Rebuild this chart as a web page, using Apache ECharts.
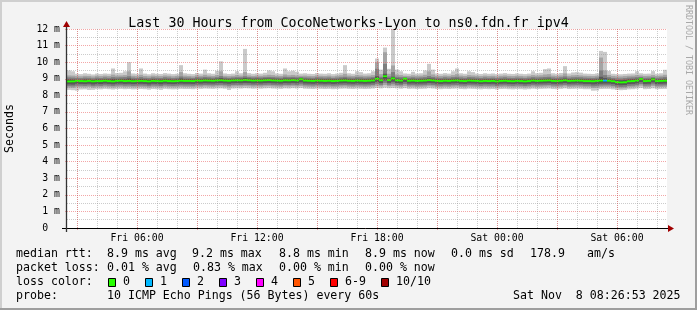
<!DOCTYPE html>
<html><head><meta charset="utf-8">
<script src="https://cdn.jsdelivr.net/npm/echarts@6/dist/echarts.min.js"></script>
<style>html,body{margin:0;padding:0;background:#f3f3f3}#c{width:697px;height:310px}</style>
</head><body><div id="c"></div>
<script>
// time axis in minutes since Fri 00:00; graph spans Fri 02:30 .. Sat 08:30
const START_MIN = 150, END_MIN = 1950, BIN_MIN = 12;

const hourTicks = [180,240,300,360,420,480,540,600,660,720,780,840,900,960,1020,1080,1140,1200,1260,1320,1380,1440,1500,1560,1620,1680,1740,1800,1860,1920];
const majorTicks = [180,360,540,720,900,1080,1260,1440,1620,1800];
const labelTicks = [360,720,1080,1440,1800];
const labelTexts = ['Fri 06:00','Fri 12:00','Fri 18:00','Sat 00:00','Sat 06:00'];

// sorted pings per 12-minute bin (ms), p1 = fastest, p10 = slowest
const p10 = [
9.50,9.45,9.30,9.28,9.33,9.30,9.26,9.31,9.29,9.32,
9.30,9.62,9.34,9.36,9.45,10.00,9.32,9.30,9.62,9.31,
9.27,9.33,9.30,9.29,9.34,9.31,9.28,9.30,9.82,9.33,
9.30,9.28,9.35,9.31,9.55,9.33,9.30,9.48,10.05,9.32,
9.29,9.31,9.45,9.33,10.80,9.34,9.30,9.33,9.31,9.36,
9.50,9.45,9.32,9.30,9.62,9.45,9.48,9.42,9.31,9.33,
9.30,9.29,9.34,9.31,9.30,9.33,9.28,9.31,9.36,9.82,
9.33,9.30,9.45,9.40,9.31,9.33,9.45,10.22,9.55,10.88,
9.60,12.00,9.55,9.45,9.32,9.30,9.42,9.31,9.33,9.50,
9.90,9.55,9.32,9.30,9.34,9.31,9.45,9.62,9.33,9.30,
9.45,9.40,9.31,9.29,9.33,9.30,9.32,9.28,9.31,9.34,
9.30,9.29,9.32,9.30,9.28,9.31,9.45,9.33,9.36,9.58,
9.62,9.33,9.30,9.35,9.76,9.32,9.38,9.40,9.37,9.31,
9.30,9.29,9.32,10.68,10.62,9.47,9.30,9.28,9.27,9.29,
9.31,9.32,9.45,9.33,9.30,9.31,9.46,9.30,9.33,9.54];
const p9 = [
9.20,9.19,9.16,9.15,9.18,9.17,9.14,9.18,9.16,9.19,
9.17,9.25,9.19,9.20,9.22,9.45,9.18,9.16,9.24,9.17,
9.15,9.19,9.17,9.16,9.20,9.18,9.15,9.17,9.40,9.19,
9.17,9.15,9.21,9.18,9.24,9.19,9.17,9.22,9.45,9.18,
9.16,9.18,9.22,9.19,9.40,9.20,9.17,9.19,9.18,9.21,
9.24,9.22,9.18,9.17,9.26,9.21,9.23,9.20,9.18,9.19,
9.17,9.16,9.20,9.18,9.17,9.19,9.15,9.18,9.21,9.30,
9.19,9.17,9.22,9.20,9.18,9.19,9.22,10.00,9.28,10.60,
9.30,9.80,9.26,9.22,9.18,9.17,9.21,9.18,9.19,9.24,
9.45,9.26,9.18,9.17,9.20,9.18,9.22,9.28,9.19,9.17,
9.22,9.20,9.18,9.16,9.19,9.17,9.18,9.15,9.18,9.20,
9.17,9.16,9.18,9.17,9.15,9.18,9.22,9.19,9.21,9.26,
9.28,9.19,9.17,9.20,9.32,9.18,9.21,9.22,9.20,9.18,
9.17,9.16,9.18,10.28,9.50,9.23,9.17,9.15,9.14,9.16,
9.18,9.19,9.22,9.20,9.17,9.18,9.22,9.17,9.19,9.24];
const p8 = [
9.08,9.07,9.05,9.04,9.07,9.06,9.03,9.07,9.05,9.08,
9.06,9.10,9.08,9.09,9.10,9.15,9.07,9.05,9.10,9.06,
9.04,9.08,9.06,9.05,9.09,9.07,9.04,9.06,9.14,9.08,
9.07,9.05,9.10,9.08,9.11,9.09,9.07,9.10,9.16,9.08,
9.06,9.08,9.10,9.09,9.15,9.10,9.08,9.09,9.08,9.10,
9.11,9.10,9.08,9.07,9.12,9.10,9.11,9.09,9.10,9.08,
9.07,9.06,9.09,9.08,9.07,9.08,9.05,9.07,9.09,9.12,
9.08,9.07,9.10,9.09,9.07,9.08,9.10,9.60,9.12,9.90,
9.14,9.40,9.12,9.10,9.08,9.07,9.09,9.07,9.08,9.10,
9.16,9.11,9.07,9.06,9.09,9.07,9.10,9.12,9.08,9.06,
9.10,9.09,9.07,9.05,9.08,9.06,9.07,9.04,9.07,9.09,
9.06,9.05,9.07,9.06,9.04,9.07,9.10,9.08,9.09,9.11,
9.12,9.08,9.06,9.09,9.14,9.07,9.09,9.10,9.09,9.07,
9.06,9.05,9.07,9.50,9.22,9.10,9.05,9.03,9.02,9.04,
9.07,9.08,9.10,9.09,9.06,9.07,9.10,9.06,9.08,9.11];
const p7 = [
8.97,8.96,8.95,8.95,8.97,8.96,8.94,8.97,8.96,8.98,
8.97,8.99,8.98,8.99,8.99,9.02,8.97,8.96,8.99,8.97,
8.95,8.98,8.96,8.96,8.99,8.97,8.95,8.97,9.02,8.98,
8.98,8.97,9.00,8.99,9.01,9.00,8.99,9.01,9.04,9.00,
8.99,9.00,9.01,9.01,9.05,9.02,9.00,9.01,9.00,9.02,
9.02,9.01,9.00,8.99,9.02,9.01,9.02,9.01,9.05,9.00,
8.99,8.98,9.00,8.99,8.98,8.99,8.97,8.98,9.00,9.02,
8.99,8.98,9.00,8.99,8.98,8.99,9.01,9.15,9.02,9.30,
9.03,9.12,9.02,9.00,9.06,8.99,9.00,8.98,8.99,9.00,
9.03,9.01,8.98,8.97,8.99,8.98,9.00,9.01,8.98,8.97,
9.00,8.99,8.98,8.96,8.98,8.97,8.98,8.95,8.98,8.99,
8.97,8.96,8.98,8.97,8.95,8.97,9.00,8.98,8.99,9.00,
9.01,8.98,8.97,8.99,9.02,8.98,8.99,9.00,8.99,8.97,
8.97,8.96,8.98,9.12,9.05,9.00,8.96,8.92,8.91,8.94,
8.97,8.98,9.00,9.06,8.97,8.98,9.04,8.97,8.98,9.00];
const p6 = [
8.90,8.89,8.92,8.91,8.90,8.92,8.89,8.91,8.91,8.93,
8.91,8.90,8.92,8.93,8.92,8.94,8.90,8.91,8.93,8.91,
8.89,8.92,8.91,8.90,8.93,8.91,8.90,8.91,8.95,8.92,
8.92,8.91,8.94,8.93,8.95,8.94,8.93,8.95,8.97,8.94,
8.93,8.95,8.96,8.95,8.99,8.96,8.94,8.95,8.94,8.96,
8.97,8.95,8.94,8.93,8.96,8.95,8.97,8.95,9.02,8.94,
8.93,8.92,8.94,8.93,8.92,8.93,8.91,8.92,8.94,8.96,
8.93,8.92,8.94,8.93,8.92,8.93,8.95,9.07,8.96,9.22,
8.97,9.07,8.96,8.94,9.04,8.93,8.94,8.92,8.93,8.94,
8.97,8.95,8.92,8.91,8.93,8.92,8.94,8.95,8.92,8.91,
8.94,8.93,8.92,8.90,8.92,8.91,8.92,8.89,8.92,8.93,
8.91,8.90,8.92,8.91,8.89,8.91,8.94,8.92,8.93,8.94,
8.95,8.92,8.91,8.93,8.96,8.92,8.93,8.94,8.93,8.91,
8.91,8.90,8.92,8.98,8.95,8.93,8.90,8.85,8.84,8.85,
8.90,8.91,8.94,9.03,8.91,8.92,9.01,8.91,8.92,8.93];
const p5 = [
8.79,8.78,8.82,8.81,8.80,8.82,8.78,8.81,8.80,8.83,
8.81,8.79,8.82,8.83,8.81,8.82,8.80,8.81,8.82,8.81,
8.78,8.82,8.81,8.79,8.83,8.81,8.80,8.81,8.83,8.82,
8.82,8.81,8.84,8.83,8.85,8.84,8.83,8.85,8.86,8.84,
8.83,8.85,8.86,8.85,8.88,8.86,8.84,8.85,8.84,8.86,
8.87,8.85,8.84,8.83,8.86,8.85,8.87,8.85,8.92,8.84,
8.83,8.82,8.84,8.83,8.82,8.83,8.81,8.82,8.84,8.85,
8.83,8.82,8.84,8.83,8.82,8.83,8.85,8.94,8.86,9.06,
8.87,8.96,8.86,8.84,8.95,8.83,8.84,8.82,8.83,8.84,
8.87,8.85,8.82,8.81,8.83,8.82,8.84,8.85,8.82,8.81,
8.84,8.83,8.82,8.80,8.82,8.81,8.82,8.79,8.82,8.83,
8.81,8.80,8.82,8.81,8.79,8.81,8.84,8.82,8.83,8.84,
8.85,8.82,8.81,8.83,8.86,8.82,8.83,8.84,8.83,8.81,
8.81,8.80,8.82,8.82,8.83,8.83,8.80,8.75,8.73,8.74,
8.80,8.81,8.84,8.93,8.81,8.82,8.91,8.81,8.82,8.83];
const p4 = [
8.66,8.65,8.70,8.69,8.68,8.70,8.66,8.69,8.68,8.71,
8.69,8.67,8.70,8.71,8.69,8.70,8.68,8.69,8.70,8.69,
8.66,8.70,8.69,8.67,8.71,8.69,8.68,8.69,8.71,8.70,
8.70,8.69,8.72,8.71,8.73,8.72,8.71,8.73,8.74,8.72,
8.70,8.73,8.74,8.73,8.75,8.74,8.72,8.73,8.72,8.74,
8.75,8.73,8.72,8.71,8.74,8.73,8.75,8.73,8.78,8.72,
8.71,8.70,8.72,8.71,8.70,8.71,8.69,8.70,8.72,8.73,
8.71,8.70,8.72,8.71,8.70,8.71,8.73,8.80,8.74,8.90,
8.75,8.82,8.74,8.72,8.80,8.71,8.72,8.70,8.71,8.72,
8.75,8.73,8.70,8.69,8.71,8.70,8.72,8.73,8.70,8.69,
8.72,8.71,8.70,8.68,8.70,8.69,8.70,8.67,8.70,8.71,
8.69,8.68,8.70,8.69,8.67,8.69,8.72,8.70,8.71,8.72,
8.73,8.70,8.69,8.71,8.74,8.70,8.71,8.72,8.71,8.69,
8.69,8.66,8.67,8.70,8.71,8.71,8.68,8.63,8.61,8.62,
8.68,8.69,8.72,8.80,8.69,8.70,8.78,8.69,8.70,8.71];
const p3 = [
8.55,8.54,8.58,8.58,8.57,8.59,8.55,8.58,8.57,8.60,
8.58,8.56,8.59,8.60,8.58,8.59,8.57,8.58,8.59,8.58,
8.55,8.59,8.58,8.56,8.60,8.58,8.57,8.58,8.60,8.59,
8.59,8.58,8.61,8.60,8.62,8.61,8.60,8.62,8.63,8.61,
8.58,8.62,8.63,8.62,8.64,8.63,8.61,8.62,8.61,8.63,
8.64,8.62,8.61,8.60,8.63,8.62,8.64,8.62,8.66,8.61,
8.60,8.59,8.61,8.60,8.59,8.60,8.58,8.59,8.61,8.62,
8.60,8.59,8.61,8.60,8.59,8.60,8.62,8.68,8.63,8.75,
8.64,8.70,8.63,8.61,8.68,8.60,8.61,8.59,8.60,8.61,
8.64,8.62,8.59,8.58,8.60,8.59,8.61,8.62,8.59,8.58,
8.61,8.60,8.59,8.57,8.59,8.58,8.59,8.56,8.59,8.60,
8.58,8.57,8.59,8.58,8.56,8.58,8.61,8.59,8.60,8.61,
8.62,8.59,8.58,8.60,8.63,8.59,8.60,8.61,8.60,8.58,
8.58,8.54,8.55,8.59,8.60,8.60,8.57,8.52,8.50,8.51,
8.57,8.58,8.61,8.68,8.58,8.59,8.66,8.58,8.59,8.60];
const p2 = [
8.46,8.45,8.49,8.49,8.48,8.50,8.46,8.49,8.48,8.51,
8.49,8.47,8.50,8.51,8.49,8.50,8.48,8.49,8.50,8.49,
8.46,8.50,8.49,8.47,8.51,8.49,8.48,8.49,8.51,8.50,
8.50,8.49,8.52,8.51,8.53,8.52,8.51,8.53,8.54,8.52,
8.48,8.53,8.54,8.53,8.55,8.54,8.52,8.53,8.52,8.54,
8.55,8.53,8.52,8.51,8.54,8.53,8.55,8.53,8.56,8.52,
8.51,8.50,8.52,8.51,8.50,8.51,8.49,8.50,8.52,8.53,
8.51,8.50,8.52,8.51,8.50,8.51,8.53,8.57,8.54,8.62,
8.55,8.58,8.54,8.52,8.57,8.51,8.52,8.50,8.51,8.52,
8.55,8.53,8.50,8.49,8.51,8.50,8.52,8.53,8.50,8.49,
8.52,8.51,8.50,8.48,8.50,8.49,8.50,8.47,8.50,8.51,
8.49,8.48,8.50,8.49,8.47,8.49,8.52,8.50,8.51,8.52,
8.53,8.50,8.49,8.51,8.54,8.50,8.51,8.52,8.51,8.49,
8.49,8.44,8.45,8.50,8.51,8.51,8.48,8.43,8.41,8.42,
8.48,8.49,8.52,8.58,8.49,8.50,8.56,8.49,8.50,8.51];
const p1 = [
8.33,8.31,8.28,8.35,8.36,8.32,8.33,8.37,8.36,8.39,
8.37,8.35,8.38,8.39,8.37,8.38,8.36,8.37,8.38,8.37,
8.34,8.38,8.37,8.33,8.39,8.37,8.36,8.37,8.39,8.38,
8.38,8.37,8.40,8.39,8.41,8.40,8.39,8.41,8.42,8.40,
8.32,8.41,8.42,8.41,8.43,8.42,8.40,8.41,8.40,8.42,
8.43,8.41,8.40,8.39,8.42,8.41,8.43,8.41,8.44,8.40,
8.39,8.38,8.40,8.39,8.38,8.39,8.37,8.38,8.40,8.41,
8.39,8.38,8.40,8.39,8.38,8.39,8.41,8.44,8.42,8.46,
8.43,8.44,8.42,8.40,8.43,8.39,8.40,8.38,8.39,8.40,
8.43,8.41,8.38,8.37,8.39,8.38,8.40,8.41,8.38,8.37,
8.40,8.39,8.38,8.36,8.38,8.37,8.38,8.35,8.38,8.39,
8.37,8.36,8.38,8.37,8.35,8.37,8.40,8.38,8.39,8.40,
8.41,8.38,8.37,8.39,8.42,8.38,8.39,8.40,8.39,8.37,
8.37,8.28,8.29,8.38,8.39,8.39,8.36,8.32,8.31,8.32,
8.36,8.37,8.40,8.44,8.37,8.38,8.42,8.37,8.38,8.39];
const median = [
8.84,8.84,8.87,8.86,8.85,8.87,8.84,8.86,8.86,8.88,
8.86,8.84,8.87,8.88,8.86,8.87,8.85,8.86,8.87,8.86,
8.84,8.87,8.86,8.85,8.88,8.86,8.85,8.86,8.88,8.87,
8.87,8.86,8.89,8.88,8.90,8.89,8.88,8.90,8.91,8.89,
8.88,8.90,8.91,8.90,8.93,8.91,8.89,8.90,8.89,8.91,
8.92,8.90,8.89,8.88,8.91,8.90,8.92,8.90,8.97,8.89,
8.88,8.87,8.89,8.88,8.87,8.88,8.86,8.87,8.89,8.90,
8.88,8.87,8.89,8.88,8.87,8.88,8.90,9.00,8.91,9.15,
8.92,9.02,8.91,8.89,9.00,8.88,8.89,8.87,8.88,8.89,
8.92,8.90,8.87,8.86,8.88,8.87,8.89,8.90,8.87,8.86,
8.89,8.88,8.87,8.85,8.87,8.86,8.87,8.84,8.87,8.88,
8.86,8.85,8.87,8.86,8.84,8.86,8.89,8.87,8.88,8.89,
8.90,8.87,8.86,8.88,8.91,8.87,8.88,8.89,8.88,8.86,
8.86,8.85,8.87,8.89,8.89,8.88,8.85,8.80,8.78,8.79,
8.85,8.86,8.89,8.98,8.86,8.87,8.96,8.86,8.87,8.88];
// lost pings per bin (out of 10)
const loss = [
0,0,0,0,0,0,0,0,0,0, 0,0,0,0,0,0,0,0,0,0, 0,0,0,0,0,0,0,0,0,0,
0,0,0,0,0,0,0,0,0,0, 0,0,0,0,0,0,0,0,0,0, 0,0,0,0,0,0,0,0,0,0,
0,0,0,0,0,0,0,0,0,0, 0,0,0,0,0,0,0,0,0,0, 0,0,0,0,0,0,0,0,0,0,
0,0,0,0,0,0,0,0,0,0, 0,0,0,0,0,0,0,0,0,0, 0,0,0,0,0,0,0,0,0,0,
0,0,0,0,0,0,0,0,0,0, 0,0,0,0,1,0,0,0,0,0, 0,0,0,0,0,0,0,0,0,0];

const lossLabels = ['0','1','2','3','4','5','6-9','10/10'];
const lossColors = ['#26ff00','#00b8ff','#0059ff','#7e00ff','#ff00ff','#ff5500','#ff0000','#a10000'];
const smokeColors = ['#cacaca','#a4a4a4','#7e7e7e','#585858','#323232'];

const MONO = '"DejaVu Sans Mono", monospace';
const binCenter = i => START_MIN + BIN_MIN * i + BIN_MIN / 2;

const bands = [[p1,p10],[p2,p9],[p3,p8],[p4,p7],[p5,p6]];

function bandRender(color) {
  return function (params, api) {
    const t = api.value(0), lo = api.value(1), hi = api.value(2);
    const a = api.coord([t - BIN_MIN / 2, hi]);
    const b = api.coord([t + BIN_MIN / 2, lo]);
    return { type: 'rect', shape: { x: a[0], y: a[1], width: b[0] - a[0], height: b[1] - a[1] },
             style: { fill: color } };
  };
}

const series = bands.map((pair, k) => ({
  type: 'custom', name: 'smoke' + (k + 1), xAxisIndex: 0, yAxisIndex: 0, z: 2 + k * 0.01,
  renderItem: bandRender(smokeColors[k]), clip: true,
  encode: { x: 0, y: [1, 2] },
  data: pair[0].map((lo, i) => [binCenter(i), lo, pair[1][i]])
}));

series.push({
  type: 'custom', name: 'median', xAxisIndex: 0, yAxisIndex: 0, z: 3, clip: true,
  encode: { x: 0, y: 1 },
  data: median.map((m, i) => [binCenter(i), m, loss[i]]),
  renderItem: function (params, api) {
    const t = api.value(0), m = api.value(1), l = api.value(2);
    const a = api.coord([t - BIN_MIN / 2, m]);
    const b = api.coord([t + BIN_MIN / 2, m]);
    return { type: 'rect', shape: { x: a[0], y: a[1] - 1, width: b[0] - a[0], height: 2 },
             style: { fill: lossColors[l] } };
  }
});

const graphic = [];
// frame shading
graphic.push({ type: 'rect', shape: { x: 0, y: 0, width: 697, height: 2 }, style: { fill: '#cfcfcf' }, silent: true });
graphic.push({ type: 'rect', shape: { x: 0, y: 0, width: 2, height: 310 }, style: { fill: '#cfcfcf' }, silent: true });
graphic.push({ type: 'rect', shape: { x: 0, y: 308, width: 697, height: 2 }, style: { fill: '#9e9e9e' }, silent: true });
graphic.push({ type: 'rect', shape: { x: 695, y: 0, width: 2, height: 310 }, style: { fill: '#9e9e9e' }, silent: true });
// axis lines with arrows
graphic.push({ type: 'line', shape: { x1: 62, y1: 228.5, x2: 669, y2: 228.5 }, style: { stroke: '#000', lineWidth: 1 }, z: 20 });
graphic.push({ type: 'line', shape: { x1: 66.5, y1: 26, x2: 66.5, y2: 232 }, style: { stroke: '#333', lineWidth: 1.3 }, z: 20 });
graphic.push({ type: 'polygon', shape: { points: [[668, 225], [674, 228.5], [668, 232]] }, style: { fill: '#a00000' }, z: 21 });
graphic.push({ type: 'polygon', shape: { points: [[63, 27], [66.5, 21], [70, 27]] }, style: { fill: '#a00000' }, z: 21 });
// vertical credit
graphic.push({ type: 'text', x: 688, y: 60, rotation: -Math.PI / 2,
  style: { text: 'RRDTOOL / TOBI OETIKER', font: '8.3px ' + MONO, fill: '#a8a8a8', align: 'center', verticalAlign: 'middle' } });

function txt(s, x, y) {
  graphic.push({ type: 'text', x: x, y: y, z: 30,
    style: { text: s, font: '11.6px ' + MONO, fill: '#000', align: 'left', verticalAlign: 'middle' } });
}
txt('median rtt:', 16, 254); txt('8.9 ms avg', 107, 254); txt('9.2 ms max', 192, 254);
txt('8.8 ms min', 279, 254); txt('8.9 ms now', 365, 254); txt('0.0 ms sd', 451, 254);
txt('178.9', 530, 254); txt('am/s', 587, 254);
txt('packet loss:', 16, 268); txt('0.01 % avg', 107, 268); txt('0.83 % max', 193, 268);
txt('0.00 % min', 279, 268); txt('0.00 % now', 365, 268);
txt('loss color:', 16, 282);
const boxX = [108, 145, 182, 219, 256, 293, 330, 381];
lossLabels.forEach((lab, i) => {
  graphic.push({ type: 'rect', z: 30, shape: { x: boxX[i] + 0.5, y: 278.5, width: 7, height: 8 },
    style: { fill: lossColors[i], stroke: '#000', lineWidth: 1 } });
  txt(lab, boxX[i] + 15, 282);
});
txt('probe:', 16, 296); txt('10 ICMP Echo Pings (56 Bytes) every 60s', 107, 296);
txt('Sat Nov  8 08:26:53 2025', 513, 296);

const gridGray = 'rgba(143,143,143,0.45)';
const gridRed = 'rgba(232,80,80,0.5)';

const option = {
  animation: false,
  backgroundColor: '#f3f3f3',
  title: { text: 'Last 30 Hours from CocoNetworks-Lyon to ns0.fdn.fr ipv4', left: 'center', top: 12,
    textStyle: { fontFamily: MONO, fontSize: 13.3, fontWeight: 'normal', color: '#000' } },
  grid: { left: 67, right: 30, top: 29, bottom: 82, show: true, backgroundColor: '#ffffff', borderWidth: 0,
    outerBoundsMode: 'none', containLabel: false },
  xAxis: [
    { type: 'value', min: START_MIN, max: END_MIN, position: 'bottom', z: 5,
      axisLine: { show: false },
      axisTick: { show: false, customValues: hourTicks },
      axisLabel: { show: true, customValues: labelTicks, formatter: v => labelTexts[labelTicks.indexOf(v)],
        fontFamily: MONO, fontSize: 9.8, color: '#000', margin: 5 },
      splitLine: { show: true, lineStyle: { color: gridGray, type: [1, 1], width: 1 } } },
    { type: 'value', min: START_MIN, max: END_MIN, position: 'bottom', z: 6,
      axisLine: { show: false },
      axisTick: { show: true, customValues: majorTicks, length: 2, inside: false, lineStyle: { color: gridRed } },
      axisLabel: { show: false },
      splitLine: { show: true, lineStyle: { color: gridRed, type: [1, 1], width: 1 } } }
  ],
  yAxis: [
    { type: 'value', min: 0, max: 12, interval: 1, z: 5,
      name: 'Seconds', nameLocation: 'middle', nameGap: 51, nameRotate: 90,
      nameTextStyle: { fontFamily: MONO, fontSize: 11.6, color: '#000' },
      axisLine: { show: false },
      axisTick: { show: true, length: 2, lineStyle: { color: gridRed } },
      minorTick: { show: false, splitNumber: 2 },
      minorSplitLine: { show: true, lineStyle: { color: gridGray, type: [1, 1], width: 1 } },
      axisLabel: { fontFamily: MONO, fontSize: 9.8, color: '#000', margin: 7,
        formatter: v => (v === 0 ? '0  ' : v + ' m') },
      splitLine: { show: true, lineStyle: { color: gridRed, type: [1, 1], width: 1 } } }
  ],
  series: series,
  graphic: graphic
};

const chart = echarts.init(document.getElementById('c'), null, { renderer: 'canvas' });
chart.setOption(option);
</script></body></html>
